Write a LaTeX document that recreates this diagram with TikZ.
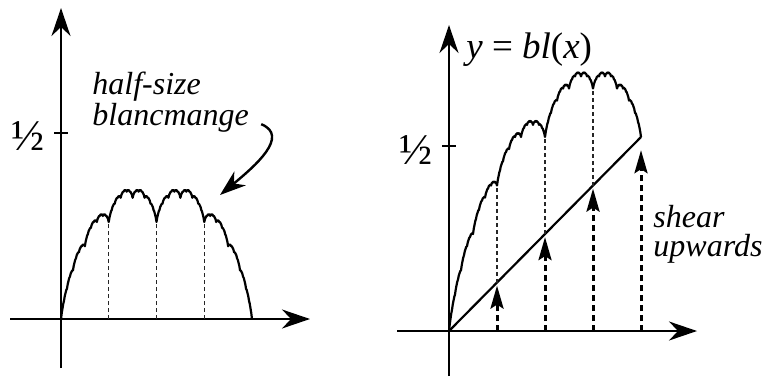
\documentclass[tikz,border=0pt]{standalone}
\usepackage{amsmath, amssymb}
\usepackage{fontspec}
\setmainfont{Liberation Serif}
\usepackage{tikz}
\usetikzlibrary{arrows.meta, positioning, calc}

\tikzset{
    declare function={
        tri(\t) = abs(\t - round(\t));
        takagi(\t) = tri(\t) + tri(2*\t)/2 + tri(4*\t)/4 + tri(8*\t)/8 + tri(16*\t)/16 + tri(32*\t)/32 + tri(64*\t)/64 + tri(128*\t)/128;
    },
    axis/.style={line width=1pt, -{Stealth[length=14pt, width=9.5pt, inset=4.5pt]}},
    curve/.style={line width=1.1pt, line join=round},
    guide/.style={line width=0.6pt, black!85, dash pattern=on 2pt off 1.5pt},
    shear/.style={line width=1.5pt, dash pattern=on 3pt off 2pt, -{Stealth[length=11.5pt, width=6.5pt, inset=2pt]}},
    pointer/.style={line width=1.2pt, -{Stealth[length=13pt, width=9pt, inset=4pt]}},
    tick/.style={font=\fontsize{22}{22}\selectfont, inner sep=0pt},
    note/.style={font=\fontsize{16}{14.5}\selectfont\itshape, align=left, inner sep=0pt}
}

\begin{document}
\begin{tikzpicture}[x=0.5pt, y=0.5pt]
    \useasboundingbox (0,0) rectangle (763,376);

    % left: axes and the 1/2 mark
    \draw[axis] (10,57) -- (310,57);
    \draw[axis] (61,8) -- (61,368);
    \draw[line width=1pt] (54,243) -- (68,243);
    \node[tick, anchor=east] (halfL) at (45,240) {½};

    % left: half-size blancmange
    \begin{scope}[shift={(61,57)}, x=95.5pt, y=194pt]
        \draw[curve] plot[domain=0:1, samples=257] (\x, {takagi(\x)/2});
        \foreach \s in {0.25, 0.5, 0.75}
            \draw[guide] (\s,0) -- (\s,0.25);
    \end{scope}

    % left: label with curved arrow
    \node[note, anchor=north west] (blanc) at (92,304) {half-size\\blancmange};
    \coordinate (bump) at (220,181);
    \draw[pointer] ($(blanc.south east)+(12,9)$) .. controls (290,240) and (255,210) .. (bump);

    % right: axes and the 1/2 mark
    \draw[axis] (397,45) -- (697,45);
    \draw[axis] (449,0) -- (449,351);
    \draw[line width=1pt] (442,230) -- (456,230);
    \node[tick, anchor=east] (halfR) at (433,226) {½};
    \node[tick, font=\fontsize{18.5}{18}\selectfont, anchor=base west] (graph) at (466,318) {\textit{y} = \textit{bl}(\textit{x})};

    % right: bl(x) = sheared blancmange
    \begin{scope}[shift={(449,45)}, x=96pt, y=194pt]
        \coordinate (O) at (0,0);
        \coordinate (E) at (1,0.5);
        \draw[curve] plot[domain=0:1, samples=257] (\x, {\x/2 + takagi(\x)/2});
        \draw[curve] (O) -- (E);
        \foreach \s in {0.25, 0.5, 0.75}
            \draw[guide] (\s,\s/2) -- (\s,{\s/2+0.25});
        \foreach \s/\t in {0.25/0.117, 0.5/0.242, 0.75/0.367, 1/0.466}
            \draw[shear] (\s,0) -- (\s,\t);
    \end{scope}
    \node[note, anchor=north west] (shearlbl) at (653,171) {shear\\upwards};
\end{tikzpicture}
\end{document}
